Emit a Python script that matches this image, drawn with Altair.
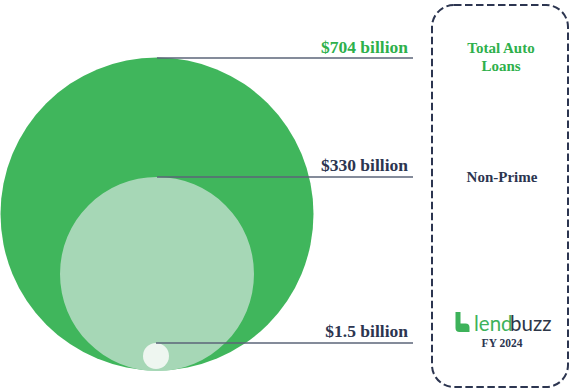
import altair as alt
import pandas as pd

# ---- data ----
segments = ["Total Auto Loans", "Non-Prime", "Lendbuzz FY 2024"]
values_billion = [704, 330, 1.5]
value_labels = ["$704 billion", "$330 billion", "$1.5 billion"]
right_labels = [["Total Auto", "Loans"], ["Non-Prime"], ["FY 2024"]]
logo_parts = ["lend", "buzz"]

# ---- layout (pixels) ----
W, H = 572, 391
circle_cx = [157, 157, 156]
circle_cy = [214, 274, 356]
circle_r = [156.5, 97, 13]
circle_fill = ["#40B65C", "#A6D7B6", "#EEF6F0"]
label_right_x = 408
label_base_y = [53, 171, 337]
leader_y = [58, 177, 343]
leader_x2 = 413

GREEN_TXT = "#2EB04B"
NAVY = "#2C3550"
LINE = "#5B6479"

xs = alt.Scale(domain=[0, W], range=[0, W])
ys = alt.Scale(domain=[0, H], range=[0, H])

circles = pd.DataFrame({
    "segment": segments,
    "value": values_billion,
    "cx": circle_cx,
    "cy": circle_cy,
    "size": [(2 * r) ** 2 for r in circle_r],
    "fill": circle_fill,
})

circle_layer = alt.Chart(circles).mark_point(filled=True, opacity=1, shape="circle", strokeWidth=0).encode(
    x=alt.X("cx:Q", scale=xs, axis=None),
    y=alt.Y("cy:Q", scale=ys, axis=None),
    size=alt.Size("size:Q", scale=None, legend=None),
    color=alt.Color("fill:N", scale=None, legend=None),
    order=alt.Order("size:Q", sort="descending"),
)

leaders = pd.DataFrame({
    "x": circle_cx,
    "x2": [leader_x2] * 3,
    "y": leader_y,
})
leader_layer = alt.Chart(leaders).mark_rule(color=LINE, strokeWidth=1.3).encode(
    x=alt.X("x:Q", scale=xs, axis=None),
    x2="x2:Q",
    y=alt.Y("y:Q", scale=ys, axis=None),
)

vlabels = pd.DataFrame({
    "label": value_labels,
    "x": [label_right_x] * 3,
    "y": label_base_y,
    "c": [GREEN_TXT, NAVY, NAVY],
})
vlabel_layer = alt.Chart(vlabels).mark_text(
    align="right", baseline="alphabetic", font="Liberation Serif",
    fontWeight="bold", fontSize=17.5,
).encode(
    x=alt.X("x:Q", scale=xs, axis=None),
    y=alt.Y("y:Q", scale=ys, axis=None),
    text="label:N",
    color=alt.Color("c:N", scale=None, legend=None),
)

rlabels = pd.DataFrame({
    "label": right_labels[0:2],
    "x": [501, 502],
    "y": [53, 182],
    "c": [GREEN_TXT, NAVY],
})
rlabel_layer = alt.Chart(rlabels).mark_text(
    align="center", baseline="alphabetic", font="Liberation Serif",
    fontWeight="bold", fontSize=15, lineHeight=18,
).encode(
    x=alt.X("x:Q", scale=xs, axis=None),
    y=alt.Y("y:Q", scale=ys, axis=None),
    text="label",
    color=alt.Color("c:N", scale=None, legend=None),
)

fy = pd.DataFrame({"label": right_labels[2], "x": [502], "y": [347]})
fy_layer = alt.Chart(fy).mark_text(
    align="center", baseline="alphabetic", font="Liberation Serif",
    fontWeight="bold", fontSize=11.5, color=NAVY,
).encode(
    x=alt.X("x:Q", scale=xs, axis=None),
    y=alt.Y("y:Q", scale=ys, axis=None),
    text="label:N",
)

logo = pd.DataFrame({
    "part": logo_parts,
    "x": [474, 510],
    "y": [331, 331],
    "c": ["#3DB25A", "#2E3648"],
    "a": ["left", "left"],
})
logo_lend = alt.Chart(logo.iloc[[0]]).mark_text(
    align="left", baseline="alphabetic", font="Lato", fontSize=20.5,
).encode(
    x=alt.X("x:Q", scale=xs, axis=None),
    y=alt.Y("y:Q", scale=ys, axis=None),
    text="part:N",
    color=alt.Color("c:N", scale=None, legend=None),
)
logo_buzz = alt.Chart(logo.iloc[[1]]).mark_text(
    align="left", baseline="alphabetic", font="Lato", fontSize=20.5,
).encode(
    x=alt.X("x:Q", scale=xs, axis=None),
    y=alt.Y("y:Q", scale=ys, axis=None),
    text="part:N",
    color=alt.Color("c:N", scale=None, legend=None),
)

icon_path = ("M-0.7,-1 L-0.2,-1 L-0.2,0.15 L0.3,0.15 Q0.7,0.15 0.7,0.55 "
             "L0.7,1 L-0.3,1 Q-0.7,1 -0.7,0.6 Z")
icon = pd.DataFrame({"x": [462.5], "y": [322]})
icon_layer = alt.Chart(icon).mark_point(
    shape=icon_path, filled=True, opacity=1, color="#3DB25A", size=400, strokeWidth=0,
).encode(
    x=alt.X("x:Q", scale=xs, axis=None),
    y=alt.Y("y:Q", scale=ys, axis=None),
)

box_layer = alt.Chart(pd.DataFrame({"k": [0]})).mark_rect(
    fillOpacity=0, stroke=NAVY, strokeWidth=2, strokeDash=[7.5, 3.5], cornerRadius=22,
).encode(
    x=alt.value(432), x2=alt.value(568), y=alt.value(5), y2=alt.value(387),
)

chart = alt.layer(
    circle_layer, leader_layer, vlabel_layer, rlabel_layer, fy_layer,
    logo_lend, logo_buzz, icon_layer, box_layer,
).properties(
    width=W, height=H, padding=0, autosize=alt.AutoSizeParams(type="none"),
    background="white",
).configure_view(stroke=None)

chart.save("out.html", embed_options={"renderer": "svg", "actions": False})
